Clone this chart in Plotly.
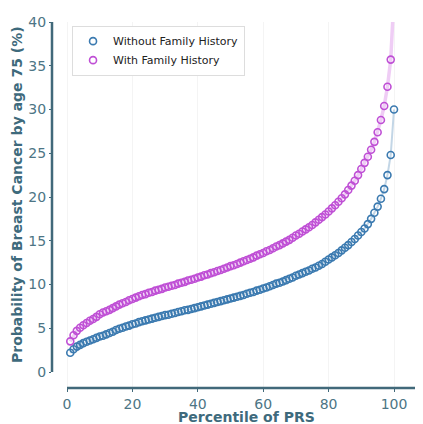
import plotly.graph_objects as go

percentiles = list(range(1, 101))

without_fh = [
    2.2, 2.6, 2.9, 3.1, 3.3, 3.45, 3.6, 3.75, 3.9, 4.05,
    4.15, 4.3, 4.45, 4.6, 4.8, 4.95, 5.05, 5.2, 5.3, 5.45,
    5.55, 5.7, 5.8, 5.9, 6.0, 6.1, 6.2, 6.3, 6.4, 6.5,
    6.55, 6.65, 6.75, 6.85, 6.95, 7.05, 7.1, 7.2, 7.3, 7.4,
    7.5, 7.6, 7.7, 7.8, 7.9, 8.0, 8.1, 8.2, 8.3, 8.4,
    8.5, 8.6, 8.7, 8.8, 8.95, 9.05, 9.15, 9.3, 9.4, 9.55,
    9.65, 9.8, 9.95, 10.1, 10.2, 10.35, 10.5, 10.65, 10.8, 11.0,
    11.15, 11.3, 11.45, 11.6, 11.8, 11.95, 12.15, 12.35, 12.6, 12.85,
    13.1, 13.35, 13.6, 13.9, 14.2, 14.5, 14.85, 15.2, 15.6, 16.0,
    16.4, 16.9, 17.5, 18.2, 18.9, 19.8, 20.9, 22.5, 24.8, 30.0,
]

with_fh = [
    3.5, 4.2, 4.7, 5.05, 5.35, 5.6, 5.85, 6.05, 6.3, 6.6,
    6.8, 6.95, 7.1, 7.3, 7.5, 7.7, 7.85, 8.0, 8.2, 8.35,
    8.5, 8.65, 8.8, 8.9, 9.05, 9.15, 9.3, 9.4, 9.5, 9.65,
    9.75, 9.85, 9.95, 10.1, 10.2, 10.3, 10.45, 10.55, 10.65, 10.8,
    10.9, 11.05, 11.15, 11.3, 11.4, 11.55, 11.65, 11.8, 11.95, 12.1,
    12.2, 12.35, 12.5, 12.65, 12.8, 12.95, 13.1, 13.3, 13.45, 13.6,
    13.8, 13.95, 14.15, 14.35, 14.5, 14.7, 14.9, 15.1, 15.35, 15.6,
    15.8, 16.05, 16.3, 16.55, 16.8, 17.1, 17.4, 17.7, 18.0, 18.35,
    18.7, 19.05, 19.45, 19.85, 20.3, 20.8, 21.3, 21.85, 22.5, 23.2,
    23.9, 24.6, 25.4, 26.3, 27.4, 28.8, 30.4, 32.6, 35.7, 43.0,
]

x_ticks = [0, 20, 40, 60, 80, 100]
y_ticks = [0, 5, 10, 15, 20, 25, 30, 35, 40]

BLUE = "#3b7ab0"
PURPLE = "#bf4fd5"
AXIS = "#41697a"
TITLE = "#3e6a7c"
TICK = "#4d7585"
FONT = "DejaVu Sans"

fig = go.Figure()

fig.add_trace(go.Scatter(x=percentiles, y=without_fh, mode="lines",
                         line=dict(color="#c3d6e6", width=2),
                         showlegend=False, hoverinfo="skip"))
fig.add_trace(go.Scatter(x=percentiles, y=with_fh, mode="lines",
                         line=dict(color="#efcdf5", width=3.5),
                         showlegend=False, hoverinfo="skip"))
fig.add_trace(go.Scatter(x=percentiles, y=without_fh, mode="markers",
                         name="Without Family History",
                         marker=dict(symbol="circle-open", size=7, color=BLUE,
                                     line=dict(width=1.6))))
fig.add_trace(go.Scatter(x=percentiles, y=with_fh, mode="markers",
                         name="With Family History",
                         marker=dict(symbol="circle-open", size=7, color=PURPLE,
                                     line=dict(width=1.6))))

fig.update_layout(
    width=415, height=416,
    margin=dict(l=44, r=0, t=14, b=36),
    paper_bgcolor="white",
    plot_bgcolor="white",
    font=dict(family=FONT, color=TICK, size=14),
    xaxis=dict(range=[-4.587, 108.87], tickvals=x_ticks, showline=False,
               zeroline=False, showgrid=True, gridcolor="#f4f4f4",
               ticks="outside", ticklen=3, tickcolor=AXIS,
               tickfont=dict(size=14, color=TICK, family=FONT)),
    yaxis=dict(range=[-1.829, 40], tickvals=y_ticks, showline=False,
               zeroline=False, showgrid=False,
               ticks="outside", ticklen=2, tickcolor=AXIS,
               tickfont=dict(size=14, color=TICK, family=FONT)),
    legend=dict(x=0.054, y=0.99, xanchor="left", yanchor="top",
                bgcolor="white", bordercolor="#dddddd", borderwidth=1,
                font=dict(size=11, color="#222222", family=FONT)),
    shapes=[
        dict(type="line", xref="x", yref="paper", x0=0, x1=115, y0=0, y1=0,
             line=dict(color=AXIS, width=2.5)),
        dict(type="line", xref="paper", yref="y", x0=0, x1=0, y0=0, y1=40,
             line=dict(color=AXIS, width=2.5)),
    ],
    annotations=[
        dict(text="<b>Percentile of PRS</b>", xref="paper", yref="paper",
             x=(247 - 52) / 371, y=-(417 - 388) / 366, xanchor="center",
             yanchor="middle", showarrow=False,
             font=dict(size=14, color=TITLE, family=FONT)),
        dict(text="<b>Probability of Breast Cancer by age 75 (%)</b>",
             xref="paper", yref="paper", textangle=-90,
             x=-(52 - 17) / 371, y=(388 - 195) / 366, xanchor="center",
             yanchor="middle", showarrow=False,
             font=dict(size=14, color=TITLE, family=FONT)),
    ],
)

fig.write_html("out.html")
